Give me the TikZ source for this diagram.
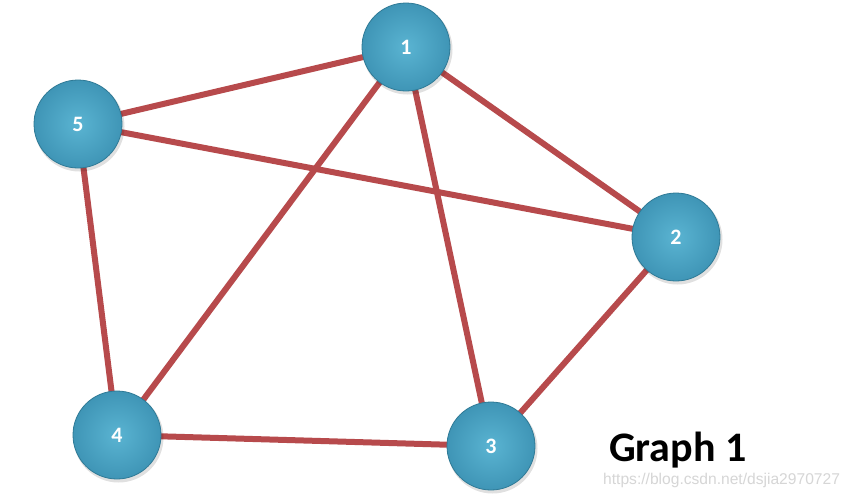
\documentclass[tikz,border=0pt]{standalone}
\usepackage{fontspec}
\setmainfont{Carlito}
\newfontfamily\wmfont{Liberation Sans}
\begin{document}
\begin{tikzpicture}[x=1pt,y=-1pt,
  vtx/.style={circle,minimum size=88pt,inner sep=0pt,draw=vedge,line width=0.8pt,
    inner color=vin,outer color=vout,text=white,font=\bfseries\fontsize{22}{24}\selectfont},
  edg/.style={draw=edgecol,line width=6pt}]
\definecolor{vin}{HTML}{5AB4D2}
\definecolor{vout}{HTML}{3F95B6}
\definecolor{vedge}{HTML}{2F7A96}
\definecolor{edgecol}{HTML}{B74A4C}
\useasboundingbox (0,0) rectangle (853,496);
\fill[white] (0,0) rectangle (853,496);
\coordinate (c1) at (406,47);
\coordinate (c2) at (676,237);
\coordinate (c3) at (491,446);
\coordinate (c4) at (117,435);
\coordinate (c5) at (78,124);
\draw[edg] (c1) -- (c5);
\draw[edg] (c1) -- (c2);
\draw[edg] (c1) -- (c4);
\draw[edg] (c1) -- (c3);
\draw[edg] (c5) -- (c2);
\draw[edg] (c5) -- (c4);
\draw[edg] (c4) -- (c3);
\draw[edg] (c3) -- (c2);
\foreach \n in {1,...,5}{
  \fill[black,opacity=0.12] ([xshift=1.5pt,yshift=-2.5pt]c\n) circle (45pt);
}
\node[vtx] (n1) at (c1) {1};
\node[vtx] (n2) at (c2) {2};
\node[vtx] (n3) at (c3) {3};
\node[vtx] (n4) at (c4) {4};
\node[vtx] (n5) at (c5) {5};
\node[anchor=west,font=\bfseries\fontsize{42}{44}\selectfont,inner sep=0pt] (title) at (609,450) {Graph 1};
\node[anchor=west,font=\wmfont\fontsize{15.6}{17}\selectfont,text=black!16,inner sep=0pt] (wm) at (603,480) {https://blog.csdn.net/dsjia2970727};
\end{tikzpicture}
\end{document}
